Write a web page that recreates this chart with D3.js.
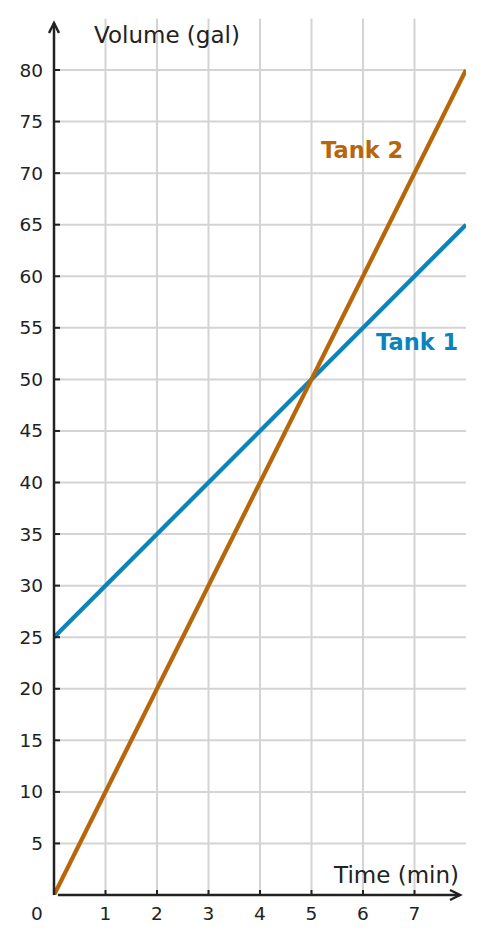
<!DOCTYPE html>
<html>
<head>
<meta charset="utf-8">
<script src="https://cdn.jsdelivr.net/npm/d3@7"></script>
<style>
  body { margin: 0; background: #fff; }
  text { font-family: "DejaVu Sans", sans-serif; fill: #222; }
</style>
</head>
<body>
<div id="chart"></div>
<script>
// data
const times = [0, 8];
const tank1 = [25, 65];
const tank2 = [0, 80];
const xTicks = [1, 2, 3, 4, 5, 6, 7];
const yTicks = [5, 10, 15, 20, 25, 30, 35, 40, 45, 50, 55, 60, 65, 70, 75, 80];
const seriesNames = ["Tank 1", "Tank 2"];
const seriesColors = ["#0a84bb", "#b8660a"];

const w = 485;
const h = 944;

const x = d3.scaleLinear().domain([0, 8]).range([54, 466]);
const y = d3.scaleLinear().domain([0, 80]).range([895, 70]);

const svg = d3.select("#chart").append("svg")
  .attr("width", w)
  .attr("height", h);

// grid
svg.append("g").selectAll("line")
  .data(xTicks).enter().append("line")
  .attr("x1", d => x(d)).attr("x2", d => x(d))
  .attr("y1", y(85)).attr("y2", y(0))
  .attr("stroke", "#d4d4d4").attr("stroke-width", 2);

svg.append("g").selectAll("line")
  .data(yTicks).enter().append("line")
  .attr("x1", x(0)).attr("x2", x(8))
  .attr("y1", d => y(d)).attr("y2", d => y(d))
  .attr("stroke", "#d4d4d4").attr("stroke-width", 2);

// lines
svg.append("clipPath").attr("id", "clip")
  .append("rect")
  .attr("x", x(0)).attr("y", y(85))
  .attr("width", x(8) - x(0)).attr("height", y(0) - y(85));

const line = d3.line().x(d => x(d[0])).y(d => y(d[1]));
[tank1, tank2].forEach((vals, i) => {
  svg.append("path")
    .datum(times.map((t, j) => [t, vals[j]]))
    .attr("d", line)
    .attr("clip-path", "url(#clip)")
    .attr("fill", "none")
    .attr("stroke", seriesColors[i])
    .attr("stroke-width", 4.3);
});

// axes
const axisColor = "#222";
svg.append("line")
  .attr("x1", x(0)).attr("x2", x(0))
  .attr("y1", y(0)).attr("y2", 23)
  .attr("stroke", axisColor).attr("stroke-width", 2.5);
svg.append("path")
  .attr("d", `M${x(0) - 5},${33} L${x(0)},${23} L${x(0) + 5},${33}`)
  .attr("fill", "none").attr("stroke", axisColor)
  .attr("stroke-width", 2.5).attr("stroke-linejoin", "miter");

svg.append("line")
  .attr("x1", x(0) + 4).attr("x2", 460)
  .attr("y1", y(0)).attr("y2", y(0))
  .attr("stroke", axisColor).attr("stroke-width", 2.5);
svg.append("path")
  .attr("d", `M450,${y(0) - 5} L460,${y(0)} L450,${y(0) + 5}`)
  .attr("fill", "none").attr("stroke", axisColor)
  .attr("stroke-width", 2.5);

// ticks
svg.append("g").selectAll("line")
  .data(yTicks).enter().append("line")
  .attr("x1", x(0)).attr("x2", x(0) + 6)
  .attr("y1", d => y(d)).attr("y2", d => y(d))
  .attr("stroke", axisColor).attr("stroke-width", 2);

svg.append("g").selectAll("line")
  .data(xTicks).enter().append("line")
  .attr("x1", d => x(d)).attr("x2", d => x(d))
  .attr("y1", y(0)).attr("y2", y(0) - 5)
  .attr("stroke", axisColor).attr("stroke-width", 2);

svg.append("g").selectAll("text")
  .data(yTicks).enter().append("text")
  .attr("x", 43)
  .attr("y", d => y(d) + 6.5)
  .attr("text-anchor", "end")
  .attr("font-size", 18.5)
  .text(d => d);

svg.append("g").selectAll("text")
  .data(xTicks).enter().append("text")
  .attr("x", d => x(d))
  .attr("y", 920)
  .attr("text-anchor", "middle")
  .attr("font-size", 18.5)
  .text(d => d);

svg.append("text")
  .attr("x", 37).attr("y", 920)
  .attr("text-anchor", "middle")
  .attr("font-size", 18.5)
  .text("0");

// axis titles
svg.append("text")
  .attr("x", 94).attr("y", 43)
  .attr("font-size", 23)
  .text("Volume (gal)");

svg.append("text")
  .attr("x", 459).attr("y", 883)
  .attr("text-anchor", "end")
  .attr("font-size", 23)
  .text("Time (min)");

// series labels
svg.append("text")
  .attr("x", 376).attr("y", 350)
  .attr("font-size", 22.5).attr("font-weight", "bold")
  .style("fill", seriesColors[0])
  .text(seriesNames[0]);

svg.append("text")
  .attr("x", 321).attr("y", 158)
  .attr("font-size", 22.5).attr("font-weight", "bold")
  .style("fill", seriesColors[1])
  .text(seriesNames[1]);
</script>
</body>
</html>
